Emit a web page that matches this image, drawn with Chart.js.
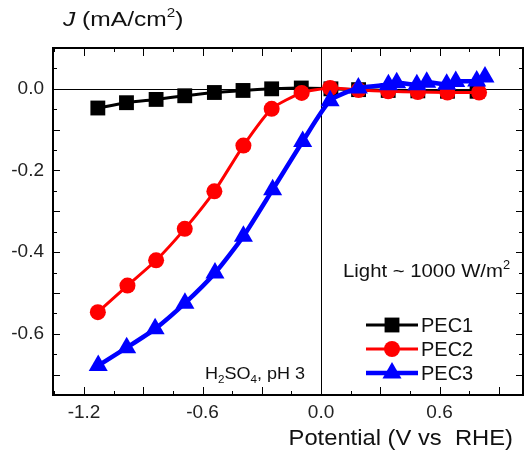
<!DOCTYPE html>
<html>
<head>
<meta charset="utf-8">
<script src="https://cdn.jsdelivr.net/npm/chart.js@4/dist/chart.umd.min.js"></script>
<style>
html,body{margin:0;padding:0;background:#fff;}
#wrap{width:527px;height:451px;position:relative;}
</style>
</head>
<body>
<div id="wrap"><canvas id="c" width="527" height="451"></canvas></div>
<script>
// ---- data ----
const seriesNames = ['PEC1', 'PEC2', 'PEC3'];
const potential1 = [-1.13, -0.985, -0.835, -0.69, -0.54, -0.395, -0.25, -0.10, 0.05, 0.19, 0.34, 0.49, 0.64, 0.79];
const pec1 = [-0.047, -0.034, -0.026, -0.017, -0.009, -0.004, 0.000, 0.002, 0.000, -0.002, -0.004, -0.005, -0.006, -0.006];
const potential2 = [-1.13, -0.98, -0.835, -0.69, -0.54, -0.393, -0.25, -0.098, 0.046, 0.19, 0.34, 0.49, 0.64, 0.80];
const pec2 = [-0.547, -0.482, -0.42, -0.343, -0.251, -0.139, -0.049, -0.010, 0.002, -0.003, -0.006, -0.008, -0.009, -0.009];
const potential3 = [-1.128, -0.984, -0.84, -0.689, -0.537, -0.393, -0.245, -0.093, 0.046, 0.189, 0.341, 0.383, 0.485, 0.535, 0.636, 0.682, 0.788, 0.830];
const pec3 = [-0.678, -0.634, -0.588, -0.525, -0.451, -0.361, -0.247, -0.129, -0.029, 0.002, 0.010, 0.015, 0.010, 0.016, 0.011, 0.018, 0.019, 0.029];
const xTickLabels = [-1.2, -0.6, 0.0, 0.6];
const yTickLabels = [0.0, -0.2, -0.4, -0.6];
const xFrame = [-1.357, 1.02];   // left / right edge of the plotted frame (V)
const yFrame = [-0.75, 0.1];     // bottom / top edge of the plotted frame (mA/cm2)

const FONT = '"Liberation Sans", Arial, sans-serif';
const toXY = (xs, ys) => xs.map((x, i) => ({x: x, y: ys[i]}));

const styles = [
  {color: '#000000', point: 'rect', radius: 10.5, width: 3},
  {color: '#ff0000', point: 'circle', radius: 8, width: 3},
  {color: '#0000ff', point: 'triangle', radius: 11, width: 4.5}
];

function drawMarker(ctx, type, x, y, r, color) {
  ctx.save();
  ctx.fillStyle = color;
  ctx.beginPath();
  if (type === 'rect') {
    const s = r / Math.SQRT2;
    ctx.rect(x - s, y - s, 2 * s, 2 * s);
  } else if (type === 'circle') {
    ctx.arc(x, y, r, 0, Math.PI * 2);
  } else {
    for (let k = 0; k < 3; k++) {
      const a = -Math.PI / 2 + k * 2 * Math.PI / 3;
      const px = x + r * Math.cos(a), py = y + r * Math.sin(a);
      if (k === 0) ctx.moveTo(px, py); else ctx.lineTo(px, py);
    }
    ctx.closePath();
  }
  ctx.fill();
  ctx.restore();
}

function drawRuns(ctx, runs, x, y, size, align, hs) {
  hs = hs || 1;
  ctx.save();
  ctx.textBaseline = 'alphabetic';
  ctx.fillStyle = '#111';
  const fontFor = r => (r.italic ? 'italic ' : '') + (r.mode === 'n' ? size : Math.round(size * 0.62)) + 'px ' + FONT;
  let total = 0;
  runs.forEach(r => { ctx.font = fontFor(r); total += ctx.measureText(r.t).width; });
  total *= hs;
  let cx = align === 'right' ? x - total : (align === 'center' ? x - total / 2 : x);
  ctx.translate(cx, y);
  ctx.scale(hs, 1);
  let ox = 0;
  runs.forEach(r => {
    ctx.font = fontFor(r);
    let dy = 0;
    if (r.mode === 'sub') dy = size * 0.22;
    if (r.mode === 'sup') dy = -size * 0.42;
    ctx.textAlign = 'left';
    ctx.fillText(r.t, ox, dy);
    ox += ctx.measureText(r.t).width;
  });
  ctx.restore();
}

function frameBox(chart) {
  const {scales: {x, y}} = chart;
  return {
    L: Math.round(x.getPixelForValue(xFrame[0])),
    R: Math.round(x.getPixelForValue(xFrame[1])),
    T: Math.round(y.getPixelForValue(yFrame[1])),
    B: Math.round(y.getPixelForValue(yFrame[0]))
  };
}

const framePlugin = {
  id: 'frame',
  beforeDatasetsDraw(chart) {
    const {ctx, scales: {x, y}} = chart;
    const f = frameBox(chart);
    ctx.save();
    ctx.fillStyle = '#000';
    const y0 = Math.round(y.getPixelForValue(0));
    const x0 = Math.round(x.getPixelForValue(0));
    ctx.fillRect(f.L, y0, f.R - f.L, 1);
    ctx.fillRect(x0, f.T, 1, f.B - f.T);
    ctx.restore();
  },
  afterDraw(chart) {
    const {ctx, scales: {x, y}} = chart;
    const {L, R, T, B} = frameBox(chart);
    ctx.save();
    ctx.fillStyle = '#000';
    for (let i = -9; i <= 7; i++) {
      const v = i * 0.15;
      if (v < xFrame[0] || v > xFrame[1]) continue;
      const px = Math.round(x.getPixelForValue(v));
      const len = (Math.abs(i) % 2 === 0) ? 8 : 4;
      ctx.fillRect(px, B - len, 1, len);
      ctx.fillRect(px, T, 1, len);
    }
    for (let i = -15; i <= 2; i++) {
      const v = i * 0.05;
      if (v < yFrame[0] - 1e-9 || v > yFrame[1] + 1e-9) continue;
      const py = Math.round(y.getPixelForValue(v));
      const len = (Math.abs(i) % 2 === 0) ? 7 : 4;
      ctx.fillRect(L, py, len, 1);
      ctx.fillRect(R - len, py, len, 1);
    }
    ctx.fillRect(L - 1, T - 1, R - L + 2, 2);
    ctx.fillRect(L - 1, B - 1, R - L + 2, 2);
    ctx.fillRect(L - 1, T - 1, 2, B - T + 2);
    ctx.fillRect(R - 1, T - 1, 2, B - T + 2);
    ctx.restore();

    const ly = [325, 349, 373];
    chart.data.datasets.forEach((ds, i) => {
      const st = styles[i];
      ctx.save();
      ctx.strokeStyle = st.color;
      ctx.lineWidth = st.width;
      ctx.beginPath();
      ctx.moveTo(366, ly[i]); ctx.lineTo(418, ly[i]);
      ctx.stroke();
      ctx.restore();
      drawMarker(ctx, st.point, 392, ly[i], st.radius, st.color);
      ctx.save();
      ctx.font = '20px ' + FONT;
      ctx.fillStyle = '#111';
      ctx.textBaseline = 'middle';
      ctx.textAlign = 'left';
      ctx.fillText(ds.label, 421, ly[i] + 1);
      ctx.restore();
    });
    drawRuns(ctx, [{t: 'Light ~ 1000 W/m', mode: 'n'}, {t: '2', mode: 'sup'}], 343, 277, 19, 'left', 1.07);
    drawRuns(ctx, [{t: 'H', mode: 'n'}, {t: '2', mode: 'sub'}, {t: 'SO', mode: 'n'}, {t: '4', mode: 'sub'}, {t: ', pH 3', mode: 'n'}], 305, 379, 17, 'right', 1.06);
    drawRuns(ctx, [{t: 'J', mode: 'n', italic: true}, {t: ' (mA/cm', mode: 'n'}, {t: '2', mode: 'sup'}, {t: ')', mode: 'n'}], 63, 26, 21, 'left', 1.17);
    drawRuns(ctx, [{t: 'Potential (V vs  RHE)', mode: 'n'}], 513, 445, 22, 'right', 1.08);
  }
};

const datasets = [
  {label: seriesNames[0], data: toXY(potential1, pec1), order: 3},
  {label: seriesNames[1], data: toXY(potential2, pec2), order: 2},
  {label: seriesNames[2], data: toXY(potential3, pec3), order: 1}
].map((d, i) => Object.assign(d, {
  borderColor: styles[i].color,
  backgroundColor: styles[i].color,
  pointBackgroundColor: styles[i].color,
  pointBorderColor: styles[i].color,
  pointBorderWidth: 0,
  pointStyle: styles[i].point,
  pointRadius: styles[i].radius,
  borderWidth: styles[i].width,
  tension: 0.2,
  showLine: true,
  clip: false
}));

new Chart(document.getElementById('c'), {
  type: 'scatter',
  data: {datasets: datasets},
  options: {
    responsive: false,
    animation: false,
    devicePixelRatio: 1,
    layout: {padding: {left: 0, right: 4, top: 48, bottom: 0}},
    plugins: {legend: {display: false}, tooltip: {enabled: false}},
    scales: {
      x: {
        type: 'linear', min: -1.357, max: 0.987,
        grid: {display: false, drawTicks: false, tickLength: 0}, border: {display: false},
        afterBuildTicks: s => { s.ticks = xTickLabels.map(v => ({value: v})); },
        afterFit: s => { s.height = 56; },
        ticks: {
          padding: 6, color: '#222', font: {family: FONT, size: 19},
          maxRotation: 0, autoSkip: false,
          callback: v => Number(v).toFixed(1)
        }
      },
      y: {
        type: 'linear', min: yFrame[0], max: yFrame[1],
        grid: {display: false, drawTicks: false, tickLength: 0}, border: {display: false},
        afterBuildTicks: s => { s.ticks = yTickLabels.map(v => ({value: v})); },
        afterFit: s => { s.width = 53; },
        ticks: {
          padding: 9, color: '#222', font: {family: FONT, size: 19},
          autoSkip: false,
          callback: v => Number(v).toFixed(1)
        }
      }
    }
  },
  plugins: [framePlugin]
});
</script>
</body>
</html>
